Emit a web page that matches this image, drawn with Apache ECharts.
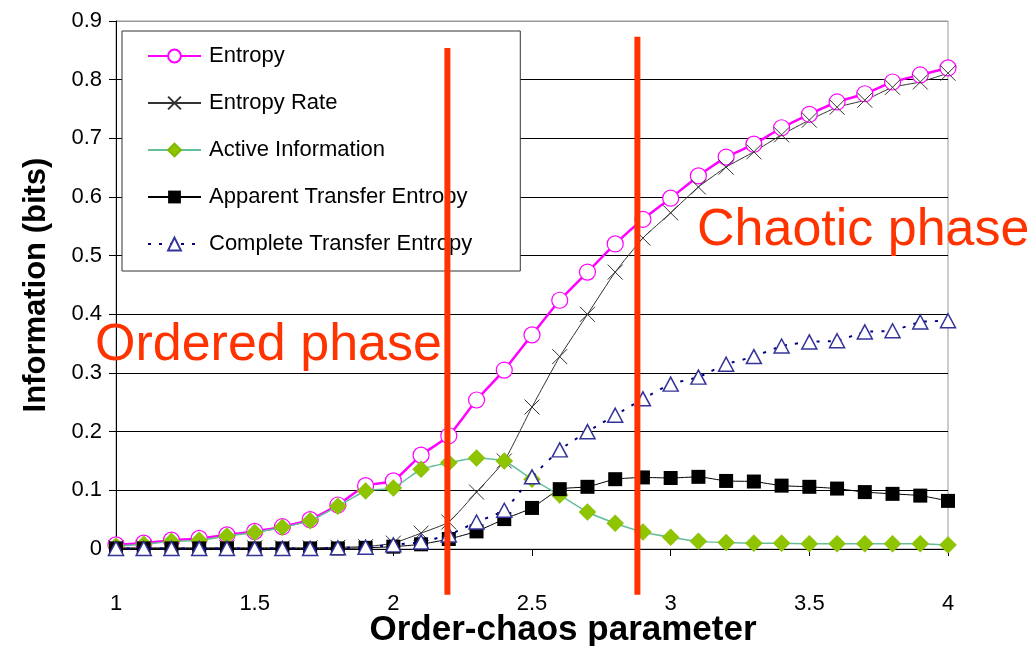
<!DOCTYPE html>
<html>
<head>
<meta charset="utf-8">
<script src="https://cdn.jsdelivr.net/npm/echarts@6/dist/echarts.min.js"></script>
<style>
  html, body { margin: 0; padding: 0; background: #fff; }
  #chart { width: 1034px; height: 646px; }
</style>
</head>
<body>
<div id="chart"></div>
<script>
const params = [1.0, 1.1, 1.2, 1.3, 1.4, 1.5, 1.6, 1.7, 1.8, 1.9, 2.0, 2.1, 2.2, 2.3, 2.4, 2.5,
  2.6, 2.7, 2.8, 2.9, 3.0, 3.1, 3.2, 3.3, 3.4, 3.5, 3.6, 3.7, 3.8, 3.9, 4.0]

const entropy = [0.007, 0.01, 0.015, 0.018, 0.024, 0.03, 0.038, 0.05, 0.075, 0.108, 0.116, 0.16, 0.193,
  0.254, 0.305, 0.365, 0.424, 0.472, 0.52, 0.562, 0.598, 0.636, 0.668, 0.69, 0.718, 0.741, 0.762,
  0.776, 0.796, 0.808, 0.82]
const entropyRate = [0.002, 0.002, 0.002, 0.002, 0.002, 0.002, 0.002, 0.002, 0.003, 0.004, 0.01, 0.027,
  0.046, 0.097, 0.15, 0.242, 0.328, 0.4, 0.472, 0.53, 0.573, 0.617, 0.651, 0.677, 0.706, 0.731, 0.753,
  0.765, 0.787, 0.796, 0.811]
const activeInfo = [0.005, 0.008, 0.013, 0.015, 0.022, 0.028, 0.037, 0.048, 0.073, 0.099, 0.104, 0.136,
  0.147, 0.155, 0.15, 0.119, 0.092, 0.063, 0.044, 0.029, 0.02, 0.013, 0.011, 0.01, 0.01, 0.009, 0.009,
  0.009, 0.009, 0.009, 0.007]
const apparentTE = [0.001, 0.001, 0.001, 0.001, 0.001, 0.001, 0.001, 0.001, 0.001, 0.002, 0.004, 0.008,
  0.017, 0.03, 0.051, 0.07, 0.102, 0.106, 0.119, 0.122, 0.121, 0.123, 0.116, 0.115, 0.108, 0.106, 0.103,
  0.097, 0.094, 0.091, 0.082]
const completeTE = [0.001, 0.001, 0.001, 0.001, 0.001, 0.001, 0.001, 0.001, 0.002, 0.003, 0.007, 0.012,
  0.024, 0.046, 0.066, 0.123, 0.169, 0.2, 0.228, 0.256, 0.281, 0.293, 0.315, 0.328, 0.346, 0.353, 0.355,
  0.37, 0.372, 0.387, 0.389]

// phase boundaries (x) and how far the red bars reach (y)
const boundaries = [2.195, 2.88]
const boundaryTops = [0.854, 0.873]
const boundaryBottom = -0.078

const seriesNames = ['Entropy', 'Entropy Rate', 'Active Information', 'Apparent Transfer Entropy', 'Complete Transfer Entropy']

const FONT = '"Liberation Sans", Arial, sans-serif'
const RED = '#ff3300'

const pts = (ys) => params.map((x, i) => [x, ys[i]])

const chart = echarts.init(document.getElementById('chart'), null, { renderer: 'canvas' })

// top gridline doubles as the grey plot border
const gridColors = Array(9).fill('#000').concat(['#999'])

chart.setOption({
  backgroundColor: '#fff',
  animation: false,
  grid: {
    left: 116, right: 86, top: 21, bottom: 97,
    outerBoundsMode: 'none', containLabel: false,
    show: true, borderColor: '#999', borderWidth: 1, backgroundColor: '#fff',
  },
  legend: {
    data: seriesNames,
    orient: 'vertical',
    left: 122,
    top: 31,
    padding: [14, 48, 16, 25],
    itemGap: 25,
    itemWidth: 53,
    itemHeight: 16,
    backgroundColor: '#fff',
    borderColor: '#333',
    borderWidth: 1,
    textStyle: { fontFamily: FONT, fontSize: 22, color: '#000', padding: [0, 0, 0, 3] },
  },
  xAxis: {
    type: 'value',
    min: 1,
    max: 4,
    interval: 0.5,
    name: 'Order-chaos parameter',
    nameLocation: 'middle',
    nameGap: 64,
    nameMoveOverlap: false,
    nameTextStyle: { fontFamily: FONT, fontSize: 35, fontWeight: 'bold', color: '#000', padding: [0, 0, 0, 62] },
    axisLine: { lineStyle: { color: '#000', width: 1 } },
    axisTick: { show: true, length: 7, lineStyle: { color: '#000' } },
    axisLabel: { fontFamily: FONT, fontSize: 22, color: '#000', margin: 44 },
    splitLine: { show: false },
  },
  yAxis: {
    type: 'value',
    min: 0,
    max: 0.9,
    interval: 0.1,
    name: 'Information (bits)',
    nameLocation: 'middle',
    nameGap: 64,
    nameMoveOverlap: false,
    nameTextStyle: { fontFamily: FONT, fontSize: 31, fontWeight: 'bold', color: '#000' },
    axisLine: { show: true, lineStyle: { color: '#000', width: 1 } },
    axisTick: { show: true, length: 7, lineStyle: { color: '#000' } },
    axisLabel: { fontFamily: FONT, fontSize: 22, color: '#000', margin: 14 },
    splitLine: { show: true, lineStyle: { color: gridColors, width: 1 } },
  },
  graphic: [
    { type: 'text', left: 95, top: 320, z: 20, style: { text: 'Ordered phase', font: '52px ' + FONT, fill: RED } },
    { type: 'text', left: 697, top: 205, z: 20, style: { text: 'Chaotic phase', font: '52px ' + FONT, fill: RED } },
  ],
  series: [
    {
      name: 'Entropy', type: 'line', data: pts(entropy), smooth: 0.15,
      symbol: 'circle', symbolSize: 16,
      lineStyle: { color: '#ff00ff', width: 2.5 },
      itemStyle: { color: '#fff', borderColor: '#ff00ff', borderWidth: 1.2 },
      z: 3,
    },
    {
      name: 'Entropy Rate', type: 'line', data: pts(entropyRate), smooth: 0.15,
      symbol: 'path://M0,0L10,10M10,0L0,10', symbolSize: 15,
      lineStyle: { color: '#333', width: 1 },
      itemStyle: { color: 'none', borderColor: '#333', borderWidth: 1 },
      z: 3,
    },
    {
      name: 'Active Information', type: 'line', data: pts(activeInfo), smooth: 0.15,
      symbol: 'diamond', symbolSize: 17,
      lineStyle: { color: '#66bf99', width: 1.5 },
      itemStyle: { color: '#8fc400', borderColor: '#7fb800', borderWidth: 0.5 },
      z: 4,
    },
    {
      name: 'Apparent Transfer Entropy', type: 'line', data: pts(apparentTE), smooth: 0.15,
      symbol: 'rect', symbolSize: 14,
      lineStyle: { color: '#000', width: 1 },
      itemStyle: { color: '#000', borderColor: '#000', borderWidth: 0 },
      z: 4,
    },
    {
      name: 'Complete Transfer Entropy', type: 'line', data: pts(completeTE), smooth: 0.15,
      symbol: 'triangle', symbolSize: [15, 14],
      lineStyle: { color: '#000080', width: 2, type: [3, 8] },
      itemStyle: { color: '#fff', borderColor: '#333399', borderWidth: 1.5 },
      z: 5,
    },
    ...boundaries.map((bx, i) => ({
      name: 'boundary' + i, type: 'line', clip: false, silent: true,
      data: [[bx, boundaryTops[i]], [bx, boundaryBottom]],
      symbol: 'none',
      lineStyle: { color: RED, width: 6 },
      z: 10,
    })),
  ],
})
</script>
</body>
</html>
